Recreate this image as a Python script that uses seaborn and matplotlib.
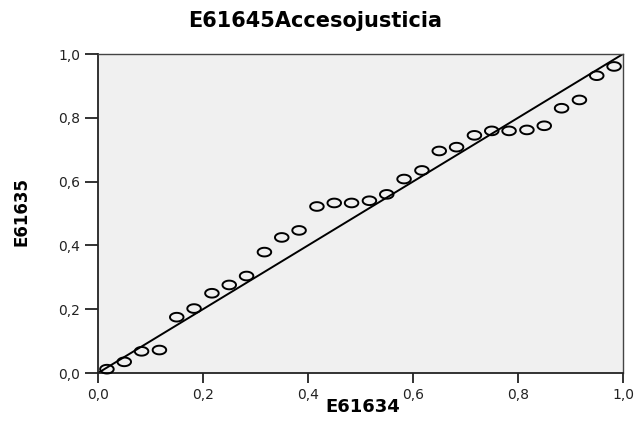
import matplotlib
matplotlib.use("Agg")
import numpy as np
import matplotlib.pyplot as plt
from matplotlib.path import Path
from matplotlib.ticker import FuncFormatter
import seaborn as sns

title = "E61645Accesojusticia"
x_label = "E61634"
y_label = "E61635"

observed_prob = [0.017, 0.050, 0.083, 0.117, 0.150, 0.183, 0.217, 0.250, 0.283, 0.317,
                 0.350, 0.383, 0.417, 0.450, 0.483, 0.517, 0.550, 0.583, 0.617, 0.650,
                 0.683, 0.717, 0.750, 0.783, 0.817, 0.850, 0.883, 0.917, 0.950, 0.983]
expected_prob = [0.012, 0.035, 0.068, 0.072, 0.175, 0.202, 0.250, 0.276, 0.304, 0.379,
                 0.425, 0.447, 0.522, 0.533, 0.533, 0.540, 0.560, 0.608, 0.635, 0.696,
                 0.708, 0.745, 0.759, 0.759, 0.762, 0.775, 0.830, 0.856, 0.932, 0.961]
ref_line = [0.0, 1.0]
tick_values = [0.0, 0.2, 0.4, 0.6, 0.8, 1.0]

sns.set_style("white")
plt.rcParams["font.family"] = ["DejaVu Sans"]

W, H = 636, 423
fig = plt.figure(figsize=(W / 100, H / 100), dpi=100)
ax = fig.add_axes([98 / W, 1 - 373 / H, 525 / W, 319 / H])
ax.set_facecolor("#f0f0f0")

# elliptical open marker
t = np.linspace(0, 2 * np.pi, 60)
ellipse = Path(np.column_stack([np.cos(t), 0.64 * np.sin(t)]), closed=True)

sns.lineplot(x=ref_line, y=ref_line, color="black", linewidth=1.4, ax=ax, zorder=2)
sns.scatterplot(x=observed_prob, y=expected_prob, marker=ellipse, s=95,
                facecolor="none", edgecolor="black", linewidth=1.4, ax=ax,
                zorder=3, clip_on=False)

ax.set_xlim(0, 1)
ax.set_ylim(0, 1)
ax.set_xticks(tick_values)
ax.set_yticks(tick_values)
fmt = FuncFormatter(lambda v, p: f"{v:.1f}".replace(".", ","))
ax.xaxis.set_major_formatter(fmt)
ax.yaxis.set_major_formatter(fmt)
ax.tick_params(axis="x", direction="out", length=7.2, width=1.3, pad=3.5,
               labelsize=10, colors="#222222", bottom=True)
ax.tick_params(axis="y", direction="out", length=9.4, width=1.3, pad=3.5,
               labelsize=10, colors="#222222", left=True)
for sp in ax.spines.values():
    sp.set_visible(True)
    sp.set_color("#444444")
    sp.set_linewidth(1.0)
ax.spines["left"].set_color("#222222")
ax.spines["left"].set_linewidth(1.3)
ax.spines["bottom"].set_color("#222222")
ax.spines["bottom"].set_linewidth(1.3)

ax.set_xlabel("")
ax.set_ylabel("")
fig.text(315 / W, 1 - 21 / H, title, ha="center", va="center",
         fontsize=15, fontweight="bold", color="black")
fig.text(363 / W, 1 - 407 / H, x_label, ha="center", va="center",
         fontsize=13, fontweight="bold", color="black")
fig.text(22 / W, 1 - 212 / H, y_label, ha="center", va="center", rotation=90,
         fontsize=12, fontweight="bold", color="black")

fig.savefig("out.png", dpi=100)
